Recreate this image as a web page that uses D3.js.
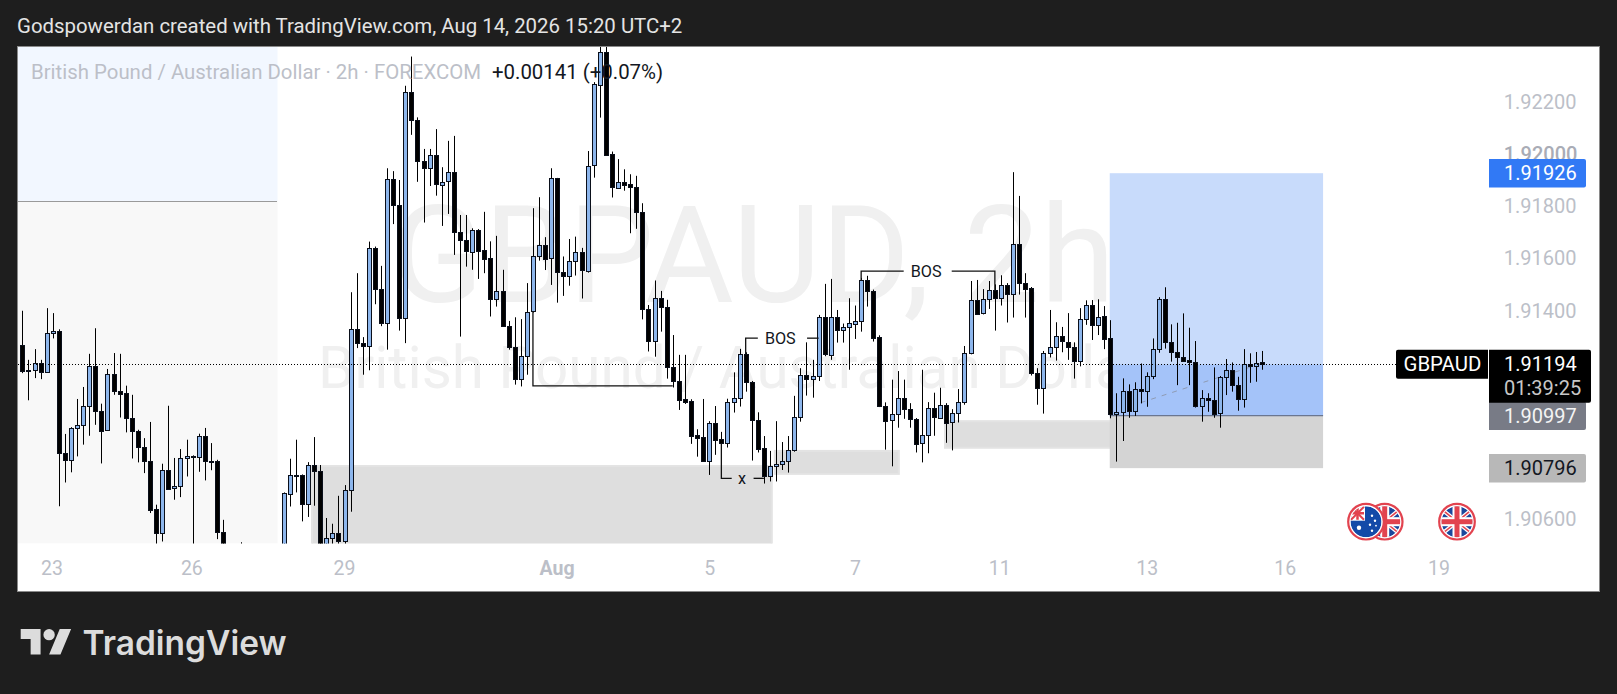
<!DOCTYPE html>
<html><head><meta charset="utf-8">
<script src="https://cdn.jsdelivr.net/npm/d3@7/dist/d3.min.js"></script>
<style>html,body{margin:0;padding:0;background:#1e1e1e;overflow:hidden}svg{display:block}text{font-family:Roboto,sans-serif}</style>
</head><body><svg id="c" width="1617" height="694"></svg>
<script>
const opens=[1.91267,1.91173,1.91171,1.91199,1.91164,1.91313,1.91322,1.90854,1.90826,1.90948,
1.90960,1.91033,1.91187,1.91016,1.90942,1.91156,1.91093,1.91084,1.90988,1.90939,
1.90877,1.90823,1.90639,1.90546,1.90789,1.90718,1.90726,1.90833,1.90842,1.90838,
1.90919,1.90823,1.90823,1.90551,1.90470,1.90450,1.90440,1.90420,1.90400,1.90430,
1.90410,1.90390,1.90420,1.90400,1.90699,1.90770,1.90770,1.90657,1.90808,1.90785,
1.90470,1.90527,1.90547,1.90515,1.90712,1.91328,1.91275,1.91262,1.91639,1.91482,
1.91351,1.91903,1.91803,1.91369,1.92236,1.92128,1.91972,1.91944,1.91995,1.91884,
1.91894,1.91930,1.91699,1.91670,1.91626,1.91709,1.91632,1.91600,1.91442,1.91474,
1.91341,1.91259,1.91137,1.91227,1.91396,1.91607,1.91651,1.91599,1.91907,1.91546,
1.91530,1.91589,1.91623,1.91553,1.91955,1.92267,1.92392,1.91998,1.91872,1.91894,
1.91884,1.91872,1.91776,1.91405,1.91281,1.91447,1.91412,1.91183,1.91129,1.91061,
1.91054,1.90923,1.90914,1.90821,1.90968,1.90907,1.90890,1.91048,1.91064,1.91232,
1.91125,1.90981,1.90872,1.90764,1.90802,1.90810,1.90821,1.90865,1.90991,1.91153,
1.91139,1.91147,1.91374,1.91230,1.91374,1.91326,1.91335,1.91349,1.91358,1.91516,
1.91475,1.91298,1.91035,1.90979,1.91003,1.91065,1.91022,1.90985,1.90891,1.90923,
1.91026,1.90990,1.91039,1.90971,1.91007,1.91049,1.91237,1.91439,1.91389,1.91443,
1.91478,1.91447,1.91497,1.91462,1.91654,1.91506,1.91485,1.91160,1.91102,1.91237,
1.91260,1.91301,1.91281,1.91260,1.91205,1.91365,1.91421,1.91344,1.91379,1.91293,
1.91001,1.91008,1.91090,1.91012,1.91098,1.91089,1.91147,1.91251,1.91443,1.91278,
1.91240,1.91220,1.91209,1.91201,1.91031,1.91063,1.91057,1.91005,1.91144,1.91171,
1.91113,1.91058,1.91194,1.91188,1.91201];
const highs=[1.91399,1.91211,1.91252,1.91211,1.91409,1.91390,1.91328,1.90927,1.90953,1.91061,
1.91107,1.91234,1.91332,1.91043,1.91176,1.91237,1.91234,1.91112,1.91077,1.90943,
1.90911,1.90973,1.90656,1.90813,1.91035,1.90835,1.90869,1.90905,1.90845,1.90928,
1.90950,1.90892,1.90828,1.90598,1.90490,1.90480,1.90512,1.90470,1.90460,1.90470,
1.90450,1.90440,1.90470,1.90703,1.90832,1.90905,1.90772,1.90819,1.90915,1.90808,
1.90605,1.90583,1.90690,1.90731,1.91470,1.91543,1.91298,1.91664,1.91645,1.91571,
1.91945,1.91934,1.91900,1.92261,1.92373,1.92140,1.92019,1.92019,1.92095,1.91949,
1.92050,1.92069,1.91766,1.91766,1.91715,1.91712,1.91778,1.91665,1.91686,1.91556,
1.91360,1.91374,1.91367,1.91505,1.91792,1.91834,1.91681,1.91945,1.91908,1.91607,
1.91674,1.91683,1.91640,1.92011,1.92275,1.92470,1.92470,1.92009,1.91980,1.91941,
1.91922,1.91916,1.91811,1.91421,1.91515,1.91475,1.91441,1.91306,1.91230,1.91230,
1.91060,1.90945,1.91061,1.90976,1.91034,1.90935,1.91062,1.91163,1.91253,1.91240,
1.91130,1.91010,1.90919,1.90862,1.90976,1.90896,1.90919,1.91073,1.91179,1.91278,
1.91211,1.91383,1.91502,1.91521,1.91402,1.91350,1.91447,1.91419,1.91525,1.91533,
1.91480,1.91305,1.91048,1.91135,1.91168,1.91135,1.91045,1.90988,1.91173,1.91049,
1.91085,1.91104,1.91045,1.91022,1.91099,1.91264,1.91513,1.91517,1.91482,1.91513,
1.91500,1.91535,1.91505,1.91930,1.91839,1.91543,1.91490,1.91179,1.91245,1.91402,
1.91355,1.91337,1.91390,1.91278,1.91409,1.91439,1.91440,1.91443,1.91417,1.91363,
1.91083,1.91140,1.91117,1.91125,1.91197,1.91163,1.91293,1.91451,1.91489,1.91347,
1.91353,1.91389,1.91334,1.91283,1.91095,1.91083,1.91182,1.91149,1.91214,1.91201,
1.91146,1.91252,1.91236,1.91241,1.91245];
const lows=[1.91160,1.91056,1.91141,1.91137,1.91164,1.91293,1.90650,1.90741,1.90780,1.90841,
1.90886,1.90920,1.90962,1.90814,1.90942,1.91077,1.90990,1.90933,1.90833,1.90818,
1.90777,1.90624,1.90490,1.90515,1.90718,1.90675,1.90685,1.90764,1.90500,1.90782,
1.90749,1.90788,1.90524,1.90450,1.90430,1.90420,1.90400,1.90380,1.90370,1.90390,
1.90370,1.90360,1.90380,1.90380,1.90649,1.90703,1.90592,1.90609,1.90652,1.90440,
1.90450,1.90505,1.90500,1.90505,1.90629,1.91256,1.91154,1.91171,1.91424,1.91340,
1.91250,1.91731,1.91323,1.91275,1.92073,1.91893,1.91737,1.91877,1.91840,1.91724,
1.91770,1.91613,1.91300,1.91568,1.91556,1.91521,1.91543,1.91377,1.91415,1.91339,
1.91250,1.91116,1.91109,1.91154,1.91392,1.91591,1.91555,1.91498,1.91430,1.91456,
1.91495,1.91534,1.91446,1.91545,1.91909,1.92139,1.91992,1.91833,1.91872,1.91859,
1.91696,1.91713,1.91366,1.91243,1.91223,1.91319,1.91139,1.91105,1.91019,1.91042,
1.90889,1.90840,1.90821,1.90770,1.90847,1.90888,1.90875,1.91009,1.91032,1.91089,
1.90825,1.90856,1.90737,1.90745,1.90745,1.90789,1.90779,1.90859,1.90974,1.91074,
1.91066,1.91130,1.91225,1.91211,1.91277,1.91277,1.91173,1.91291,1.91319,1.91415,
1.91281,1.91030,1.90867,1.90803,1.90951,1.90985,1.90951,1.90856,1.90818,1.90853,
1.90920,1.90985,1.90893,1.90864,1.90971,1.91039,1.91232,1.91383,1.91385,1.91406,
1.91323,1.91419,1.91354,1.91373,1.91461,1.91373,1.91151,1.91039,1.91005,1.91220,
1.91208,1.91240,1.91211,1.91139,1.91186,1.91345,1.91287,1.91306,1.91252,1.90987,
1.90821,1.90900,1.90989,1.90996,1.91044,1.91031,1.91137,1.91238,1.91254,1.91204,
1.91114,1.91204,1.91114,1.91028,1.90974,1.91012,1.90989,1.90951,1.91076,1.91089,
1.91016,1.91028,1.91123,1.91127,1.91173];
const closes=[1.91167,1.91168,1.91199,1.91163,1.91313,1.91321,1.90854,1.90826,1.90950,1.90960,
1.91034,1.91187,1.91013,1.90941,1.91156,1.91090,1.91082,1.90987,1.90937,1.90876,
1.90822,1.90637,1.90546,1.90789,1.90718,1.90727,1.90835,1.90842,1.90842,1.90919,
1.90822,1.90821,1.90550,1.90480,1.90450,1.90440,1.90420,1.90400,1.90430,1.90410,
1.90390,1.90420,1.90400,1.90701,1.90770,1.90768,1.90657,1.90808,1.90784,1.90460,
1.90528,1.90547,1.90515,1.90712,1.91328,1.91275,1.91262,1.91639,1.91482,1.91351,
1.91903,1.91802,1.91369,1.92236,1.92128,1.91971,1.91944,1.91995,1.91883,1.91894,
1.91930,1.91699,1.91668,1.91626,1.91709,1.91630,1.91599,1.91442,1.91474,1.91339,
1.91260,1.91135,1.91227,1.91396,1.91607,1.91651,1.91599,1.91907,1.91545,1.91530,
1.91589,1.91623,1.91553,1.91955,1.92267,1.92392,1.91996,1.91872,1.91894,1.91884,
1.91872,1.91775,1.91405,1.91281,1.91447,1.91411,1.91181,1.91128,1.91057,1.91051,
1.90921,1.90913,1.90821,1.90968,1.90904,1.90890,1.91048,1.91064,1.91232,1.91124,
1.90978,1.90871,1.90764,1.90803,1.90811,1.90822,1.90865,1.90991,1.91153,1.91139,
1.91149,1.91374,1.91231,1.91374,1.91326,1.91336,1.91351,1.91359,1.91516,1.91473,
1.91296,1.91033,1.90979,1.91003,1.91065,1.91021,1.90982,1.90891,1.90923,1.91026,
1.90990,1.91038,1.90971,1.91007,1.91049,1.91237,1.91439,1.91387,1.91443,1.91478,
1.91446,1.91497,1.91461,1.91654,1.91503,1.91484,1.91158,1.91102,1.91237,1.91260,
1.91301,1.91281,1.91260,1.91205,1.91367,1.91420,1.91344,1.91376,1.91291,1.91000,
1.91010,1.91090,1.91012,1.91098,1.91089,1.91148,1.91251,1.91443,1.91277,1.91238,
1.91219,1.91206,1.91200,1.91031,1.91063,1.91054,1.91005,1.91144,1.91171,1.91112,
1.91058,1.91194,1.91187,1.91200,1.91194];
const priceTicks=[1.922,1.92,1.918,1.916,1.914,1.906];
const timeLabels=["23","26","29","Aug","5","7","11","13","16","19"];
const timeBars=[4.8,27.8,52.9,87.9,113,137,160.7,185,207.7,233];
const lastPrice=1.91194, targetPrice=1.91926, entryPrice=1.90997, stopPrice=1.90796;
const zones=[{b0:47.65,b1:123.3,p0:1.90804,p1:1.90500},{b0:123.8,b1:144.2,p0:1.90862,p1:1.90774},{b0:151.8,b1:180.6,p0:1.90976,p1:1.90874}];
const positionBars=[178.9,214];
const projection={b0:184,b1:204,p0:1.91047,p1:1.91198};
const swingLine={b0:84,p0:1.91396,p1:1.91111,b1:107};
const titleText="Godspowerdan created with TradingView.com, Aug 14, 2026 15:20 UTC+2";
const legendText="British Pound / Australian Dollar · 2h · FOREXCOM";
const changeText="+0.00141 (+0.07%)";

const svg=d3.select("#c");
const x=d3.scaleLinear().domain([0,204]).range([22.4,1262.3]);
const y=d3.scaleLinear().domain([1.922,1.906]).range([101.7,519.3]);
const PL=18,PR=1599,PT=47,PB=591,AX=1488.5,CB=543.5;

svg.append("rect").attr("width",1617).attr("height",694).attr("fill","#1e1e1e");
svg.append("text").attr("x",17).attr("y",33).attr("font-size",20.4).attr("fill","#e4e4e4").text(titleText);
svg.append("rect").attr("x",PL-.5).attr("y",PT-.5).attr("width",PR-PL+1).attr("height",PB-PT+1).attr("fill","#fff").attr("stroke","#8a8a8a");

const defs=svg.append("defs");
defs.append("clipPath").attr("id","plot").append("rect").attr("x",PL).attr("y",PT).attr("width",AX-PL).attr("height",CB-PT);
const g=svg.append("g").attr("clip-path","url(#plot)");

// replay shading
g.append("rect").attr("x",PL).attr("y",PT).attr("width",259.5).attr("height",154).attr("fill","#f2f7ff");
g.append("rect").attr("x",PL).attr("y",201).attr("width",259.5).attr("height",CB-201).attr("fill","#f8f8f8");
g.append("line").attr("x1",PL).attr("x2",277).attr("y1",201.5).attr("y2",201.5).attr("stroke","#9a9a9a");

// watermark
g.append("text").attr("x",391).attr("y",302).attr("font-size",136).attr("fill","#f0f0f0").text("GBPAUD, 2h");
g.append("text").attr("x",318).attr("y",388).attr("font-size",58.4).attr("fill","#f0f0f0").text("British Pound / Australian Dollar");

// zones
g.selectAll("rect.zone").data(zones).join("rect").attr("class","zone")
 .attr("x",d=>x(d.b0)).attr("width",d=>x(d.b1)-x(d.b0)).attr("y",d=>y(d.p0)).attr("height",d=>y(d.p1)-y(d.p0))
 .attr("fill","#dedede").attr("stroke","#e3e3e3").attr("stroke-width",2);

// position tool
const [pb0,pb1]=positionBars;
const band=(p0,p1,f)=>g.append("rect").attr("x",x(pb0)).attr("width",x(pb1)-x(pb0)).attr("y",y(p0)).attr("height",y(p1)-y(p0)).attr("fill",f);
band(targetPrice,lastPrice,"#c8dbfb");band(lastPrice,entryPrice,"#a4c3f9");band(entryPrice,stopPrice,"#d4d4d4");
g.append("line").attr("x1",x(pb0)).attr("x2",x(pb1)).attr("y1",y(entryPrice)).attr("y2",y(entryPrice)).attr("stroke","#6a7690").attr("stroke-width",1.2);
g.append("line").attr("x1",x(projection.b0)).attr("x2",x(projection.b1)).attr("y1",y(projection.p0)).attr("y2",y(projection.p1)).attr("stroke","#8f9bb3").attr("stroke-dasharray","5 6").attr("stroke-width",1);

// candles
const bars=d3.range(opens.length).map(i=>({i,o:opens[i],h:highs[i],l:lows[i],c:closes[i]}));
const cg=g.append("g");
const px=v=>Math.round(x(v))+.5;
cg.selectAll("line.w").data(bars).join("line").attr("class","w").attr("x1",d=>px(d.i)).attr("x2",d=>px(d.i)).attr("y1",d=>y(d.h)).attr("y2",d=>y(d.l)).attr("stroke","#000");
cg.selectAll("rect.b").data(bars).join("rect").attr("class","b")
 .attr("x",d=>px(d.i)-2).attr("width",4)
 .attr("y",d=>Math.round(y(Math.max(d.o,d.c)))+.5)
 .attr("height",d=>Math.max(1,Math.round(Math.abs(y(d.o)-y(d.c)))))
 .attr("fill",d=>d.c>=d.o?"#8db6ec":"#000").attr("stroke","#0a0f1a");

// structure drawings
const dl=d3.line().x(d=>x(d[0])).y(d=>y(d[1]));
const ink=(pts)=>g.append("path").attr("d",dl(pts)).attr("fill","none").attr("stroke","#111").attr("stroke-width",1.3);
ink([[swingLine.b0,swingLine.p0],[swingLine.b0,swingLine.p1],[swingLine.b1,swingLine.p1]]);
ink([[119,1.91232],[119,1.91294],[121,1.91294]]);ink([[129.1,1.91294],[131,1.91294]]);
ink([[115,1.90890],[115,1.90757],[116.7,1.90757]]);ink([[120.3,1.90757],[122,1.90757]]);
ink([[138,1.91516],[138,1.91551],[145,1.91551]]);ink([[152.9,1.91551],[160,1.91551],[160,1.91478]]);
const note=(b,p,t)=>g.append("text").attr("x",x(b)).attr("y",y(p)+6).attr("text-anchor","middle").attr("font-size",16.2).attr("fill","#131722").text(t);
note(124.7,1.91294,"BOS");note(148.7,1.91551,"BOS");note(118.4,1.90757,"x");

// last price line
svg.append("line").attr("x1",PL).attr("x2",1396).attr("y1",Math.floor(y(lastPrice))+.5).attr("y2",Math.floor(y(lastPrice))+.5).attr("stroke","#000").attr("stroke-dasharray","1 2");

// legend
svg.append("text").attr("x",31).attr("y",79).attr("font-size",20.4).attr("fill","#bcbfc8").text(legendText);
svg.append("text").attr("x",492).attr("y",79).attr("font-size",20.4).attr("fill","#131722").text(changeText);

// axes
const fmtP=d3.format(".5f");
const ay=svg.append("g").attr("transform","translate(1503.7,0)").call(d3.axisRight(y).tickValues(priceTicks).tickSize(0).tickPadding(0).tickFormat(fmtP));
ay.select(".domain").remove();
ay.selectAll("text").attr("font-size",20).attr("font-family","Roboto").attr("fill",d=>d===1.92?"#a9acb6":"#bcbfc8").attr("font-weight",d=>d===1.92?500:400).attr("dy",".33em");
const ax=svg.append("g").attr("transform","translate(0,568.5)").call(d3.axisBottom(x).tickValues(timeBars).tickSize(0).tickPadding(0).tickFormat((d,i)=>timeLabels[i]));
ax.select(".domain").remove();
ax.selectAll("text").attr("font-size",19.5).attr("font-family","Roboto").attr("fill","#bcbfc8").attr("font-weight",(d,i)=>timeLabels[i]==="Aug"?700:400).attr("dy",".35em").attr("y",0);

// price labels
const tag=(p,h,fill,txt,tf)=>{const yy=y(p);
 svg.append("path").attr("d",`M1489 ${yy-h/2}H1584a2 2 0 0 1 2 2V${yy+h/2-2}a2 2 0 0 1 -2 2H1489Z`).attr("fill",fill);
 svg.append("text").attr("x",1504).attr("y",yy+7).attr("font-size",20).attr("fill",tf).text(txt);};
tag(targetPrice,28.5,"#3179f5",fmtP(targetPrice),"#fff");
tag(entryPrice,28.5,"#787b86",fmtP(entryPrice),"#f4f4f4");
tag(stopPrice,28.5,"#b8b8b8",fmtP(stopPrice),"#131722");
const ly=y(lastPrice);
svg.append("path").attr("d",`M1398 ${ly-14.5}H1488V${ly+14.5}H1398a2 2 0 0 1 -2 -2V${ly-12.5}a2 2 0 0 1 2 -2Z`).attr("fill","#000");
svg.append("text").attr("x",1403.5).attr("y",ly+7).attr("font-size",20.4).attr("fill","#fff").text("GBPAUD");
svg.append("path").attr("d",`M1489 ${ly-14.5}H1589a2 2 0 0 1 2 2V${ly+36.5}a2 2 0 0 1 -2 2H1489Z`).attr("fill","#000");
svg.append("text").attr("x",1504).attr("y",ly+7).attr("font-size",20).attr("fill","#fff").text(fmtP(lastPrice));
svg.append("text").attr("x",1504).attr("y",ly+31).attr("font-size",20).attr("fill","#c8c8c8").text("01:39:25");

// flags
const uk=(cx,cy,id)=>{const c=defs.append("clipPath").attr("id",id);c.append("circle").attr("cx",cx).attr("cy",cy).attr("r",15.5);
 const f=svg.append("g");f.append("circle").attr("cx",cx).attr("cy",cy).attr("r",17.8).attr("fill","#fff").attr("stroke","#e2434f").attr("stroke-width",2.2);
 const q=f.append("g").attr("clip-path",`url(#${id})`);
 q.append("circle").attr("cx",cx).attr("cy",cy).attr("r",15.5).attr("fill","#1a479c");
 [[-1,-1,1,1],[-1,1,1,-1]].forEach(d=>{q.append("line").attr("x1",cx+d[0]*16).attr("y1",cy+d[1]*13).attr("x2",cx+d[2]*16).attr("y2",cy+d[3]*13).attr("stroke","#fff").attr("stroke-width",4);
  q.append("line").attr("x1",cx+d[0]*16).attr("y1",cy+d[1]*13).attr("x2",cx+d[2]*16).attr("y2",cy+d[3]*13).attr("stroke","#e2434f").attr("stroke-width",1.5);});
 q.append("rect").attr("x",cx-16).attr("y",cy-4.5).attr("width",32).attr("height",9).attr("fill","#fff");
 q.append("rect").attr("x",cx-4.5).attr("y",cy-16).attr("width",9).attr("height",32).attr("fill","#fff");
 q.append("rect").attr("x",cx-16).attr("y",cy-2.5).attr("width",32).attr("height",5).attr("fill","#e2434f");
 q.append("rect").attr("x",cx-2.5).attr("y",cy-16).attr("width",5).attr("height",32).attr("fill","#e2434f");};
uk(1384.7,521.7,"uk1");uk(1457,521.7,"uk2");
const acx=1366,acy=521.7;
const au=svg.append("g");
au.append("circle").attr("cx",acx).attr("cy",acy).attr("r",17.8).attr("fill","#fff").attr("stroke","#e2434f").attr("stroke-width",2.2);
defs.append("clipPath").attr("id","auc").append("circle").attr("cx",acx).attr("cy",acy).attr("r",15.5);
const aq=au.append("g").attr("clip-path","url(#auc)");
aq.append("circle").attr("cx",acx).attr("cy",acy).attr("r",15.5).attr("fill","#134aa8");
aq.append("rect").attr("x",acx-16).attr("y",acy-16).attr("width",15).attr("height",15).attr("fill","#fff");
aq.append("path").attr("d",`M${acx-15} ${acy-15}L${acx-2} ${acy-2}M${acx-15} ${acy-2}L${acx-2} ${acy-15}`).attr("stroke","#e2434f").attr("stroke-width",2);
aq.append("path").attr("d",`M${acx-8.5} ${acy-15}V${acy-2}M${acx-15} ${acy-8.5}H${acx-2}`).attr("stroke","#e2434f").attr("stroke-width",2.5);
[[-7,6,2.2],[6,-6,1.2],[9,-1,1.2],[4,3,1.2],[6,9,1.2],[10,4,.9]].forEach(s=>aq.append("circle").attr("cx",acx+s[0]).attr("cy",acy+s[1]).attr("r",s[2]).attr("fill","#fff"));

// logo
const lg=svg.append("g").attr("transform","translate(20.7,623.3) scale(1.42)").attr("fill","#dcdcdc");
lg.append("path").attr("d","M14 22H7V11H0V4h14v18zM28 22h-8l7.5-18h8L28 22z");
lg.append("circle").attr("cx",20).attr("cy",8).attr("r",4);
svg.append("text").attr("x",82.5).attr("y",655).attr("font-weight",600).attr("font-size",33.5).attr("fill","#dcdcdc").style("font-family","Inter").text("TradingView");
</script></body></html>
